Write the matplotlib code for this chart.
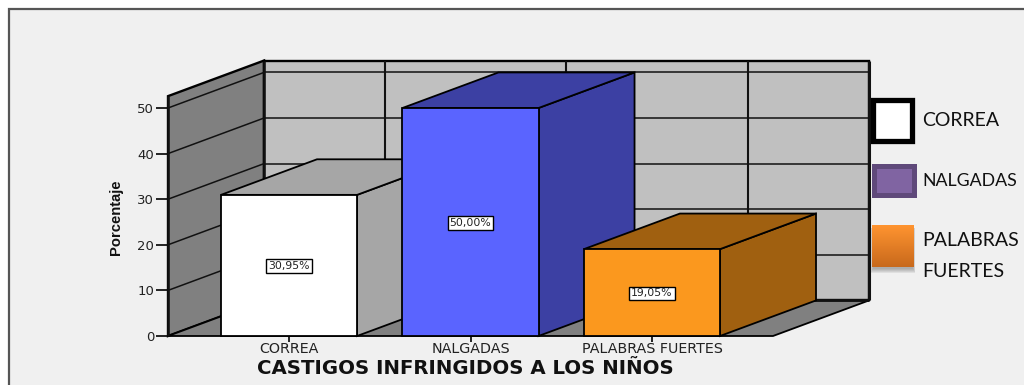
import matplotlib
matplotlib.use('Agg')
import matplotlib.pyplot as plt
import numpy as np
from matplotlib.patches import Polygon, Rectangle

categories = ['CORREA', 'NALGADAS', 'PALABRAS FUERTES']
values = [30.95, 50.00, 19.05]
value_labels = ['30,95%', '50,00%', '19,05%']
yticks = [0, 10, 20, 30, 40, 50]
legend_labels = ['CORREA', 'NALGADAS', 'PALABRAS\nFUERTES']
xlabel = 'CASTIGOS INFRINGIDOS A LOS NIÑOS'
ylabel = 'Porcentaje'

front_colors = ['#FFFFFF', '#5A64FF', '#FB981E']
side_colors = ['#A6A6A6', '#3C40A3', '#A06010']

W, H = 1024, 385
fig = plt.figure(figsize=(W / 100, H / 100), dpi=100, facecolor='white')

# page background, in pixels
bg = fig.add_axes([0, 0, 1, 1])
bg.set_xlim(0, W)
bg.set_ylim(H, 0)
bg.axis('off')
bg.set_zorder(-1)
bg.add_patch(Rectangle((9, 9), W, H, fc='#F0F0F0', ec='#555555', lw=1.6))

# chart axes, front plane of the 3d box
x0, x1 = -0.667, 2.667
ymax = 52.6
ax = fig.add_axes([168 / W, (H - 336) / H, 605 / W, 4.56 * ymax / H])
ax.set_xlim(x0, x1)
ax.set_ylim(0, ymax)
ax.patch.set_alpha(0)
for s in ax.spines.values():
    s.set_visible(False)

dx = 0.529   # depth in x units
dy = 7.8     # depth in y units
bar_w = 0.75
lw = 1.3


def poly(pts, fc, z, ec='black', width=lw):
    ax.add_patch(Polygon(pts, closed=True, fc=fc, ec=ec, lw=width, zorder=z,
                         clip_on=False, joinstyle='miter'))


def line(xs, ys, z, width=1.1, color='#111111'):
    ax.plot(xs, ys, color=color, lw=width, zorder=z, clip_on=False,
            solid_capstyle='butt')


top_back = ymax + dy

# walls and floor
poly([(x0, 0), (x0 + dx, dy), (x0 + dx, top_back), (x0, ymax)], '#808080', 1, width=1.7)
poly([(x0 + dx, dy), (x1 + dx, dy), (x1 + dx, top_back), (x0 + dx, top_back)], '#C0C0C0', 1, width=1.7)
poly([(x0, 0), (x1, 0), (x1 + dx, dy), (x0 + dx, dy)], '#808080', 1, width=1.3)

# grid on walls
for v in yticks[1:]:
    line([x0, x0 + dx], [v, v + dy], 2)
    line([x0 + dx, x1 + dx], [v + dy, v + dy], 2)
for i in range(len(categories)):
    line([i + dx, i + dx], [dy, top_back], 2, width=1.5)
line([x0 + dx, x0 + dx], [dy, top_back], 2, width=1.8)
line([x1 + dx, x1 + dx], [dy, top_back], 2, width=2.2)
line([x0 + dx, x1 + dx], [dy, dy], 2, width=2)
line([x0, x0], [0, ymax], 2, width=1.8)

# bars
for i, v in enumerate(values):
    l, r = i - bar_w / 2, i + bar_w / 2
    poly([(r, 0), (r + dx, dy), (r + dx, v + dy), (r, v)], side_colors[i], 3 + i)
    poly([(l, v), (r, v), (r + dx, v + dy), (l + dx, v + dy)], side_colors[i], 3 + i)
    poly([(l, 0), (r, 0), (r, v), (l, v)], front_colors[i], 3 + i)
    ax.text(i, v / 2 - 0.2, value_labels[i], ha='center', va='center', fontsize=7.8,
            family='DejaVu Sans', color='#222222', zorder=10,
            bbox=dict(boxstyle='square,pad=0.18', fc='white', ec='black', lw=1))

ax.set_xticks(range(len(categories)))
ax.set_xticklabels(categories, family='DejaVu Sans', fontsize=10.3, color='#222222')
ax.set_yticks(yticks)
ax.set_yticklabels([str(t) for t in yticks], family='DejaVu Sans', fontsize=9.5, color='#222222')
ax.tick_params(axis='x', length=4.5, width=1.2, pad=0)
ax.tick_params(axis='y', length=8.5, width=1.2, pad=1.5)

fig.text(465 / W, 1 - 369 / H, xlabel, ha='center', va='center', fontsize=14.2,
         fontweight='bold', family='DejaVu Sans', color='#111111')
fig.text(116 / W, 1 - 217 / H, ylabel, rotation=90, ha='center', va='center', fontsize=10.6,
         fontweight='bold', family='Liberation Sans', color='#111111')

# legend, pasted next to the chart
top = fig.add_axes([0, 0, 1, 1])
top.set_xlim(0, W)
top.set_ylim(H, 0)
top.axis('off')
top.add_patch(Rectangle((872.5, 100), 39.5, 40.5, fc='white', ec='black', lw=3.8))
top.add_patch(Rectangle((873.5, 166), 40, 28.5, fc='#8064A2', ec='#5F497A', lw=3.6))
for k in range(5):
    top.add_patch(Rectangle((873 - k * 0.6, 228), 40 + k * 1.2, 41 + k, fc='#666666',
                            alpha=0.12, ec='none'))
grad = np.linspace(0, 1, 64).reshape(-1, 1)
cmap = matplotlib.colors.LinearSegmentedColormap.from_list('o', ['#FF9430', '#C8691C'])
top.imshow(grad, cmap=cmap, extent=(872, 914, 267, 225), aspect='auto', zorder=3)
top.set_xlim(0, W)
top.set_ylim(H, 0)
top.text(922, 121, legend_labels[0], va='center', fontsize=14, family='Lato', color='#111111')
top.text(922, 181, legend_labels[1], va='center', fontsize=12.8, family='Lato', color='#111111')
top.text(922, 256, legend_labels[2], va='center', fontsize=14, family='Lato', color='#111111',
         linespacing=2.0)

fig.savefig('out.png', dpi=100)
